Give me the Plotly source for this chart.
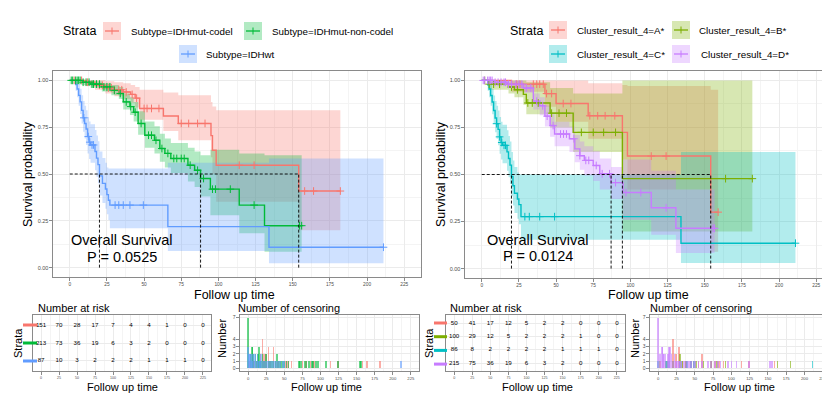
import plotly.graph_objects as go

W, H = 830, 394
FONT = "Liberation Sans, Arial, sans-serif"

# ------------------------------------------------------------------
# Left panel: Subtype
# ------------------------------------------------------------------
sub_labels = ["Subtype=IDHmut-codel", "Subtype=IDHmut-non-codel", "Subtype=IDHwt"]
sub_colors = ["#F8766D", "#00BA38", "#619CFF"]

codel_time = [0, 10, 17, 24, 30, 36, 41, 44, 47, 63, 73, 95, 96, 98.5, 154]
codel_surv = [1.0, 0.99, 0.974, 0.96, 0.95, 0.938, 0.925, 0.905, 0.85, 0.81, 0.77, 0.705, 0.627, 0.547, 0.409]
codel_upper = [1.0, 1.0, 1.0, 0.995, 0.99, 0.985, 0.975, 0.965, 0.95, 0.935, 0.92, 0.885, 0.86, 0.84, 0.84]
codel_lower = [1.0, 0.97, 0.95, 0.93, 0.915, 0.9, 0.88, 0.855, 0.79, 0.73, 0.68, 0.59, 0.50, 0.352, 0.2]
codel_end = 182
codel_cens = [3, 8, 12, 20, 22, 26, 28, 30, 33, 35, 38, 42, 45, 50, 52, 55, 60, 75, 80, 86, 91, 114, 124, 158, 164, 182]

noncodel_time = [0, 8, 14, 21.6, 28, 33, 36, 40.5, 43, 46, 50.5, 57, 60.6, 64, 68, 79.5, 84, 88, 94.6, 114, 131]
noncodel_surv = [1.0, 0.99, 0.98, 0.965, 0.947, 0.93, 0.885, 0.86, 0.83, 0.77, 0.707, 0.68, 0.636, 0.61, 0.583, 0.547, 0.52, 0.476, 0.419, 0.334, 0.224]
noncodel_upper = [1.0, 1.0, 0.995, 0.985, 0.975, 0.965, 0.93, 0.91, 0.885, 0.835, 0.78, 0.755, 0.715, 0.69, 0.665, 0.64, 0.62, 0.60, 0.63, 0.61, 0.60]
noncodel_lower = [1.0, 0.975, 0.96, 0.94, 0.92, 0.9, 0.845, 0.815, 0.78, 0.71, 0.64, 0.61, 0.565, 0.535, 0.505, 0.46, 0.43, 0.38, 0.28, 0.183, 0.085]
noncodel_end = 156
noncodel_cens = [1, 2, 4, 5, 6, 7, 9, 11, 13, 15, 16, 18, 20, 23, 25, 27, 30, 34, 38, 41, 44, 48, 53, 55, 58,
                 62, 66, 70, 72, 75, 77, 81, 86, 90, 96, 98, 108, 124, 154.5, 156]

idhwt_time = [0, 4, 5, 6, 7, 8, 9, 10, 11, 12, 13, 14, 17, 18, 19, 20, 22, 24, 25, 26, 27, 66, 134]
idhwt_surv = [1.0, 0.977, 0.954, 0.92, 0.885, 0.84, 0.80, 0.77, 0.74, 0.70, 0.67, 0.655, 0.62, 0.585, 0.55, 0.49, 0.45, 0.42, 0.39, 0.36, 0.334, 0.219, 0.109]
idhwt_upper = [1.0, 1.0, 1.0, 0.98, 0.955, 0.92, 0.89, 0.865, 0.84, 0.805, 0.78, 0.765, 0.735, 0.705, 0.675, 0.62, 0.585, 0.56, 0.535, 0.53, 0.53, 0.56, 0.583]
idhwt_lower = [1.0, 0.945, 0.91, 0.865, 0.82, 0.77, 0.725, 0.69, 0.655, 0.61, 0.58, 0.56, 0.52, 0.485, 0.45, 0.385, 0.345, 0.315, 0.285, 0.255, 0.21, 0.089, 0.023]
idhwt_end = 211
idhwt_cens = [9.5, 12.5, 13.5, 15, 16, 30.5, 33, 36, 40.5, 49.5, 211]

sub_pvalue = "P = 0.0525"

risk_times = [0, 25, 50, 75, 100, 125, 150, 175, 200, 225]
codel_risk = [151, 70, 28, 17, 7, 4, 4, 1, 0, 0]
noncodel_risk = [213, 73, 36, 19, 6, 3, 2, 0, 0, 0]
idhwt_risk = [87, 10, 3, 2, 2, 2, 1, 1, 1, 0]

codel_nc_time = [1, 3, 8, 12, 17, 20, 22, 25, 28, 30, 35, 38, 41, 45, 52, 55, 60, 75, 80, 86, 91, 114, 124, 158, 164, 182]
codel_nc_n = [1, 2, 1, 1, 2, 4, 2, 2, 3, 1, 3, 1, 1, 1, 1, 1, 1, 1, 1, 1, 1, 1, 1, 1, 1, 1]
noncodel_nc_time = [0, 3, 5, 6, 7, 10, 12, 14, 15, 16, 18, 20, 22, 25, 28, 30, 33, 35, 38, 40, 42, 44, 46, 48, 50,
                    53, 56, 70, 72, 74, 78, 80, 84, 88, 90, 94, 97, 108, 124, 155, 156]
noncodel_nc_n = [7, 2, 3, 3, 2, 2, 1, 2, 3, 1, 1, 2, 1, 2, 1, 1, 1, 1, 1, 2, 1, 1, 1, 1, 1,
                 1, 1, 1, 1, 1, 1, 1, 1, 1, 1, 1, 1, 1, 1, 1, 1]
idhwt_nc_time = [0, 1, 2, 3, 4, 5, 6, 8, 9, 10, 12, 13, 15, 16, 18, 20, 22, 24, 26, 28, 30, 33, 36, 38, 40, 43, 45, 48, 50, 211]
idhwt_nc_n = [3, 2, 2, 2, 2, 1, 2, 2, 1, 2, 1, 2, 1, 1, 2, 1, 1, 1, 1, 1, 1, 1, 1, 1, 1, 1, 1, 1, 1, 1]

# ------------------------------------------------------------------
# Right panel: Cluster_result_4
# ------------------------------------------------------------------
clu_labels = ["Cluster_result_4=A*", "Cluster_result_4=B*", "Cluster_result_4=C*", "Cluster_result_4=D*"]
clu_colors = ["#F8766D", "#7CAE00", "#00BFC4", "#C77CFF"]

a_time = [0, 20, 42.5, 50, 71.6, 94.6, 98, 154]
a_surv = [1.0, 0.98, 0.93, 0.877, 0.812, 0.724, 0.598, 0.30]
a_upper = [1.0, 1.0, 1.0, 1.0, 0.985, 0.975, 0.97, 0.95]
a_lower = [1.0, 0.94, 0.86, 0.78, 0.69, 0.58, 0.42, 0.09]
a_end = 159
a_cens = [20, 23.5, 25.7, 34.7, 37, 39, 41.4, 43.6, 47, 54.8, 60, 72.7, 78, 83, 89.5, 114, 124, 159]

b_time = [0, 4.5, 18, 22, 28, 30, 46, 61.5, 94.6]
b_surv = [1.0, 0.98, 0.965, 0.95, 0.926, 0.88, 0.826, 0.724, 0.478]
b_upper = [1.0, 1.0, 1.0, 1.0, 1.0, 0.99, 0.96, 0.93, 1.0]
b_lower = [1.0, 0.95, 0.93, 0.91, 0.87, 0.82, 0.75, 0.62, 0.197]
b_end = 182
b_cens = [2, 5, 8, 12, 20, 24, 31, 34, 38, 47, 52, 57, 67, 75, 82, 90, 164, 182]

c_time = [0, 4, 5, 6, 7, 8, 9, 10, 11, 12, 13, 14, 17, 18, 19, 20, 21, 22, 24, 25, 26.4, 134]
c_surv = [1.0, 0.977, 0.954, 0.92, 0.885, 0.84, 0.80, 0.77, 0.74, 0.70, 0.67, 0.655, 0.62, 0.585, 0.55, 0.49, 0.44, 0.40, 0.37, 0.34, 0.276, 0.135]
c_upper = [1.0, 1.0, 1.0, 0.98, 0.955, 0.92, 0.89, 0.865, 0.84, 0.805, 0.78, 0.765, 0.735, 0.705, 0.675, 0.62, 0.575, 0.54, 0.51, 0.5, 0.5, 0.62]
c_lower = [1.0, 0.945, 0.91, 0.865, 0.82, 0.77, 0.725, 0.69, 0.655, 0.61, 0.58, 0.56, 0.52, 0.485, 0.45, 0.385, 0.335, 0.295, 0.265, 0.235, 0.153, 0.03]
c_end = 211
c_cens = [10, 12, 13.5, 15, 16, 29, 32, 39, 49, 211]

d_time = [0, 8, 16.8, 28, 34.7, 39, 42.5, 46, 49, 59, 62.6, 66, 69, 75, 79.4, 87, 95, 114, 130.6]
d_surv = [1.0, 0.99, 0.98, 0.96, 0.89, 0.865, 0.81, 0.76, 0.715, 0.69, 0.636, 0.60, 0.575, 0.548, 0.504, 0.457, 0.404, 0.323, 0.214]
d_upper = [1.0, 1.0, 0.995, 0.98, 0.93, 0.91, 0.865, 0.82, 0.78, 0.755, 0.71, 0.675, 0.65, 0.625, 0.585, 0.54, 0.58, 0.52, 0.42]
d_lower = [1.0, 0.975, 0.96, 0.935, 0.845, 0.815, 0.755, 0.70, 0.65, 0.62, 0.565, 0.525, 0.495, 0.465, 0.42, 0.37, 0.26, 0.18, 0.083]
d_end = 156.6
d_cens = [1, 2, 4, 5, 6, 7, 9, 11, 13, 15, 16, 18, 20, 23, 25, 27, 30, 33, 37, 41, 44, 48, 53, 55, 57,
          62, 66, 70, 72, 77, 81, 86, 90, 97, 107, 124, 155.5, 156.6]

clu_pvalue = "P = 0.0124"

a_risk = [50, 41, 17, 12, 5, 2, 2, 0, 0, 0]
b_risk = [100, 29, 12, 5, 2, 2, 2, 1, 0, 0]
c_risk = [86, 8, 2, 2, 2, 2, 1, 1, 1, 0]
d_risk = [215, 75, 36, 19, 6, 3, 2, 0, 0, 0]

a_nc_time = [3, 12, 20, 24, 28, 33, 38, 45, 55, 60, 73, 78, 83, 89, 114, 124, 159]
a_nc_n = [1, 1, 4, 2, 3, 1, 1, 1, 1, 2, 1, 1, 1, 1, 1, 1, 1]
b_nc_time = [2, 10, 20, 30, 33, 38, 48, 52, 62, 72, 80, 92, 163, 181]
b_nc_n = [1, 1, 1, 2, 1, 1, 1, 1, 1, 1, 1, 1, 1, 1]
c_nc_time = [0, 10, 12, 15, 29, 32, 39, 45, 49, 211]
c_nc_n = [1, 1, 1, 1, 1, 1, 1, 1, 1, 1]
d_nc_time = [0, 2, 3, 5, 6, 7, 8, 10, 13, 15, 16, 18, 20, 22, 24, 26, 28, 30, 32, 35,
             38, 40, 42, 45, 48, 50, 55, 60, 68, 72, 78, 82, 85, 95, 100, 107, 124, 153, 155, 156]
d_nc_n = [7, 2, 2, 3, 3, 2, 2, 2, 2, 3, 3, 2, 1, 2, 1, 1, 1, 1, 1, 1,
          1, 1, 1, 1, 1, 1, 1, 1, 1, 1, 1, 1, 1, 1, 1, 1, 1, 1, 1, 1]

nc_ticks = [0, 1, 2, 3, 4, 7]

# ------------------------------------------------------------------
# helpers
# ------------------------------------------------------------------
def rgba(h, a):
    h = h.lstrip("#")
    return "rgba(%d,%d,%d,%s)" % (int(h[0:2], 16), int(h[2:4], 16), int(h[4:6], 16), a)


def fx(p):
    return p / W


def fy(p):
    return 1 - p / H


def step_at(times, surv, t):
    v = surv[0]
    for ti, si in zip(times, surv):
        if ti <= t:
            v = si
    return v


def median_of(times, surv):
    for ti, si in zip(times, surv):
        if si <= 0.5:
            return ti
    return None


GRID = "#EBEBEB"
MINOR = "#F4F4F4"
BORDER = "#8A8A8A"
TICKC = "#4D4D4D"
DASH = "3px,2px"

fig = go.Figure()


def km_panel(xa, ya, groups, ptext, ptx, py1, py2):
    for col, t, s, lo, hi, end, cens in groups:
        tx = list(t) + [end]
        fig.add_trace(go.Scatter(x=tx, y=list(lo) + [lo[-1]], mode="lines",
                                 line=dict(width=0, shape="hv", color=col),
                                 xaxis=xa, yaxis=ya, showlegend=False, hoverinfo="skip"))
        fig.add_trace(go.Scatter(x=tx, y=list(hi) + [hi[-1]], mode="lines",
                                 line=dict(width=0, shape="hv", color=col),
                                 fill="tonexty", fillcolor=rgba(col, 0.3),
                                 xaxis=xa, yaxis=ya, showlegend=False, hoverinfo="skip"))
    for col, t, s, lo, hi, end, cens in groups:
        fig.add_trace(go.Scatter(x=list(t) + [end], y=list(s) + [s[-1]], mode="lines",
                                 line=dict(width=1.4, shape="hv", color=col),
                                 xaxis=xa, yaxis=ya, showlegend=False))
    for col, t, s, lo, hi, end, cens in groups:
        fig.add_trace(go.Scatter(x=cens, y=[step_at(t, s, c) for c in cens], mode="markers",
                                 marker=dict(symbol="cross-thin", size=5.5, color=col,
                                             line=dict(width=1, color=col)),
                                 xaxis=xa, yaxis=ya, showlegend=False))
    meds = [median_of(g[1], g[2]) for g in groups]
    meds = [m for m in meds if m is not None]
    fig.add_trace(go.Scatter(x=[0, max(meds)], y=[0.5, 0.5], mode="lines",
                             line=dict(color="black", width=0.9, dash=DASH),
                             xaxis=xa, yaxis=ya, showlegend=False))
    for m in meds:
        fig.add_trace(go.Scatter(x=[m, m], y=[0, 0.5], mode="lines",
                                 line=dict(color="black", width=0.9, dash=DASH),
                                 xaxis=xa, yaxis=ya, showlegend=False))
    fig.add_annotation(x=ptx, y=py1, xref=xa, yref=ya, text="Overall Survival", showarrow=False,
                       font=dict(size=14.5, color="black", family=FONT), xanchor="center", yanchor="middle")
    fig.add_annotation(x=ptx, y=py2, xref=xa, yref=ya, text=ptext, showarrow=False,
                       font=dict(size=14.5, color="black", family=FONT), xanchor="center", yanchor="middle")


def risk_panel(xa, ya, rows):
    n = len(rows)
    for i, vals in enumerate(rows):
        yv = n - i
        fig.add_trace(go.Scatter(x=risk_times, y=[yv] * len(risk_times), mode="text",
                                 text=[str(v) for v in vals],
                                 textfont=dict(size=6.2, color="black", family=FONT),
                                 xaxis=xa, yaxis=ya, showlegend=False, hoverinfo="skip"))


def nc_panel(xa, ya, groups):
    for col, t, nvals in groups:
        fig.add_trace(go.Bar(x=t, y=nvals, width=2.2, marker=dict(color=rgba(col, 0.6), line=dict(width=0)),
                             xaxis=xa, yaxis=ya, showlegend=False))


km_panel("x", "y", [
    (sub_colors[0], codel_time, codel_surv, codel_lower, codel_upper, codel_end, codel_cens),
    (sub_colors[1], noncodel_time, noncodel_surv, noncodel_lower, noncodel_upper, noncodel_end, noncodel_cens),
    (sub_colors[2], idhwt_time, idhwt_surv, idhwt_lower, idhwt_upper, idhwt_end, idhwt_cens),
], sub_pvalue, 35, 0.147, 0.059)

km_panel("x2", "y2", [
    (clu_colors[0], a_time, a_surv, a_lower, a_upper, a_end, a_cens),
    (clu_colors[1], b_time, b_surv, b_lower, b_upper, b_end, b_cens),
    (clu_colors[2], c_time, c_surv, c_lower, c_upper, c_end, c_cens),
    (clu_colors[3], d_time, d_surv, d_lower, d_upper, d_end, d_cens),
], clu_pvalue, 38, 0.153, 0.065)

risk_panel("x3", "y3", [codel_risk, noncodel_risk, idhwt_risk])
nc_panel("x4", "y4", [(sub_colors[0], codel_nc_time, codel_nc_n),
                      (sub_colors[1], noncodel_nc_time, noncodel_nc_n),
                      (sub_colors[2], idhwt_nc_time, idhwt_nc_n)])
risk_panel("x5", "y5", [a_risk, b_risk, c_risk, d_risk])
nc_panel("x6", "y6", [(clu_colors[0], a_nc_time, a_nc_n),
                      (clu_colors[1], b_nc_time, b_nc_n),
                      (clu_colors[2], c_nc_time, c_nc_n),
                      (clu_colors[3], d_nc_time, d_nc_n)])


# ------------------------------------------------------------------
# axes
# ------------------------------------------------------------------
def xax(x0, x1, anchor, fs):
    return dict(domain=[fx(x0), fx(x1)], range=[-11.25, 236.25], anchor=anchor,
                tickmode="linear", tick0=0, dtick=25, showgrid=True, gridcolor=GRID, gridwidth=1,
                minor=dict(tick0=0, dtick=12.5, showgrid=True, gridcolor=MINOR, gridwidth=0.6),
                zeroline=False, showline=True, mirror=True, linecolor=BORDER, linewidth=1.1,
                ticks="outside", ticklen=2.5, tickcolor=BORDER, tickwidth=0.8,
                tickfont=dict(size=fs, color=TICKC, family=FONT), fixedrange=True)


def yax(y0, y1, anchor, rng, **kw):
    d = dict(domain=[fy(y1), fy(y0)], range=rng, anchor=anchor, showgrid=True, gridcolor=GRID,
             zeroline=False, showline=True, mirror=True, linecolor=BORDER, linewidth=1.1,
             ticks="outside", ticklen=2.5, tickcolor=BORDER, tickwidth=0.8,
             tickfont=dict(size=5.5, color=TICKC, family=FONT), fixedrange=True)
    d.update(kw)
    return d


layout = dict(
    width=W, height=H, margin=dict(l=0, r=0, t=0, b=0), autosize=False,
    paper_bgcolor="white", plot_bgcolor="white", barmode="overlay", bargap=0,
    font=dict(family=FONT, color="black"), showlegend=False,
    xaxis=xax(45, 413, "y", 4.8),
    yaxis=yax(63, 269, "x", [-0.05, 1.05], tickmode="linear", tick0=0, dtick=0.25, tickformat=".2f",
              minor=dict(tick0=0, dtick=0.125, showgrid=True, gridcolor=MINOR, gridwidth=0.6)),
    xaxis2=xax(457, 825, "y2", 4.8),
    yaxis2=yax(63, 270, "x2", [-0.05, 1.05], tickmode="linear", tick0=0, dtick=0.25, tickformat=".2f",
               minor=dict(tick0=0, dtick=0.125, showgrid=True, gridcolor=MINOR, gridwidth=0.6)),
    xaxis3=xax(25, 203, "y3", 3.6),
    yaxis3=yax(307, 363, "x3", [0.4, 3.6], tickvals=[1, 2, 3], showticklabels=False, ticks=""),
    xaxis4=xax(232, 411, "y4", 4.2),
    yaxis4=yax(307, 363, "x4", [-0.35, 7.35], tickvals=nc_ticks, tickfont=dict(size=5, color=TICKC, family=FONT)),
    xaxis5=xax(438, 617, "y5", 3.6),
    yaxis5=yax(307, 363, "x5", [0.4, 4.6], tickvals=[1, 2, 3, 4], showticklabels=False, ticks=""),
    xaxis6=xax(642, 823, "y6", 4.2),
    yaxis6=yax(307, 363, "x6", [-0.35, 7.35], tickvals=nc_ticks, tickfont=dict(size=5, color=TICKC, family=FONT)),
)
fig.update_layout(**layout)

ann = []
shapes = []


def txt(x, y, s, size, xanchor="center", angle=0, color="black"):
    ann.append(dict(x=fx(x), y=fy(y), xref="paper", yref="paper", text=s, showarrow=False,
                    xanchor=xanchor, yanchor="middle", textangle=angle,
                    font=dict(size=size, color=color, family=FONT)))


# axis titles
txt(20, 166, "Survival probability", 12.5, angle=-90)
txt(433, 166, "Survival probability", 12.5, angle=-90)
txt(226, 287, "Follow up time", 12.5)
txt(640, 287, "Follow up time", 12.5)

# sub-table titles
txt(28, 300, "Number at risk", 11, xanchor="left")
txt(228, 300, "Number of censoring", 11, xanchor="left")
txt(440, 300, "Number at risk", 11, xanchor="left")
txt(640, 300, "Number of censoring", 11, xanchor="left")
txt(114, 379, "Follow up time", 11)
txt(318, 379, "Follow up time", 11)
txt(529, 379, "Follow up time", 11)
txt(731, 379, "Follow up time", 11)
txt(10, 335, "Strata", 11, angle=-90)
txt(421, 335, "Strata", 11, angle=-90)
txt(214, 331, "Number", 11, angle=-90)
txt(627, 331, "Number", 11, angle=-90)

# risk-table strata colour bars
for i, col in enumerate(sub_colors):
    yy = 317 + i * 18
    shapes.append(dict(type="line", xref="paper", yref="paper", x0=fx(15), x1=fx(29), y0=fy(yy), y1=fy(yy),
                       line=dict(color=col, width=3)))
for i, col in enumerate(clu_colors):
    yy = 315 + i * 13.7
    shapes.append(dict(type="line", xref="paper", yref="paper", x0=fx(426), x1=fx(439), y0=fy(yy), y1=fy(yy),
                       line=dict(color=col, width=3)))


# legends
def key(x0, y0, col):
    shapes.append(dict(type="rect", xref="paper", yref="paper", x0=fx(x0), x1=fx(x0 + 18),
                       y0=fy(y0 + 18), y1=fy(y0), fillcolor=rgba(col, 0.3), line=dict(width=0)))
    shapes.append(dict(type="line", xref="paper", yref="paper", x0=fx(x0 + 2), x1=fx(x0 + 16),
                       y0=fy(y0 + 9), y1=fy(y0 + 9), line=dict(color=col, width=1.3)))
    shapes.append(dict(type="line", xref="paper", yref="paper", x0=fx(x0 + 9), x1=fx(x0 + 9),
                       y0=fy(y0 + 5.5), y1=fy(y0 + 12.5), line=dict(color=col, width=1)))


LFS = 9.8
txt(53, 23, "Strata", 12.5, xanchor="left")
key(95, 14, sub_colors[0]); txt(121, 23, sub_labels[0], LFS, xanchor="left")
key(236, 14, sub_colors[1]); txt(262, 23, sub_labels[1], LFS, xanchor="left")
key(171, 37, sub_colors[2]); txt(196, 46, sub_labels[2], LFS, xanchor="left")

txt(500, 23, "Strata", 12.5, xanchor="left")
key(541, 13, clu_colors[0]); txt(567, 22, clu_labels[0], LFS, xanchor="left")
key(664, 13, clu_colors[1]); txt(689, 22, clu_labels[1], LFS, xanchor="left")
key(541, 37, clu_colors[2]); txt(567, 46, clu_labels[2], LFS, xanchor="left")
key(664, 37, clu_colors[3]); txt(691, 46, clu_labels[3], LFS, xanchor="left")

fig.update_layout(annotations=list(fig.layout.annotations) + ann, shapes=shapes)

fig.write_html("out.html")
